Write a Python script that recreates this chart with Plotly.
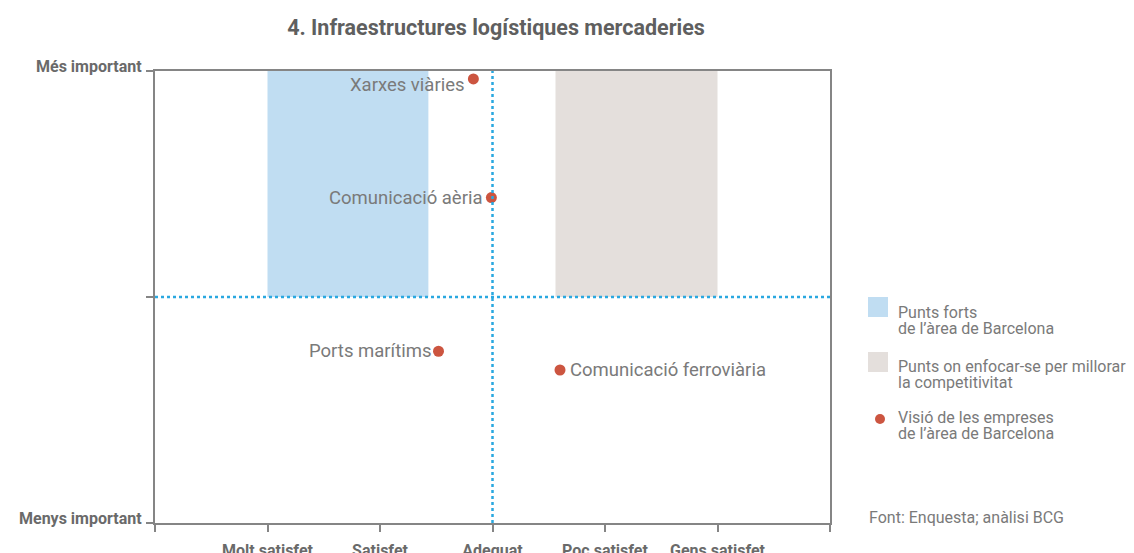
import plotly.graph_objects as go

# ---- data ----
title = "4. Infraestructures logístiques mercaderies"
x_tick_vals = [0, 1, 2, 3, 4, 5, 6]
x_tick_text = ["", "Molt satisfet", "Satisfet", "Adequat", "Poc satisfet", "Gens satisfet", ""]
y_tick_vals = [0, 1, 2]
y_tick_text = ["Menys important", "", "Més important"]

point_names = ["Xarxes viàries", "Comunicació aèria", "Ports marítims", "Comunicació ferroviària"]
point_x = [2.83, 2.99, 2.52, 3.60]
point_y = [1.965, 1.44, 0.76, 0.677]
label_side = ["left", "left", "left", "right"]

strong_zone_x = [1.0, 2.43]
focus_zone_x = [3.56, 5.0]
zone_y = [1.0, 2.0]
mid_x = 3.0
mid_y = 1.0

legend_items = [["Punts forts", "de l’àrea de Barcelona"],
                ["Punts on enfocar-se per millorar", "la competitivitat"],
                ["Visió de les empreses", "de l’àrea de Barcelona"]]
source_text = "Font: Enquesta; anàlisi BCG"

# ---- layout geometry (page pixels; body has 8px default margin) ----
OFF = 8
W, H = 1134 - OFF, 553 - OFF
PL, PR, PT, PB = 155, 830, 71, 523  # plot area in page pixels


def px(x):
    return (x - PL) / (PR - PL)


def py(y):
    return (PB - y) / (PB - PT)


# ---- style ----
FONT = "Roboto"
GREY_TXT = "#7a7a7a"
AXIS = "#858585"
BLUE = "#c0ddf2"
BEIGE = "#e4dfdc"
RED = "#cc5540"
DOT = "#2aa8e0"
TICK_TXT = "#6a6a6a"

fig = go.Figure()

# zones
fig.add_shape(type="rect", xref="x", yref="y", x0=strong_zone_x[0], x1=strong_zone_x[1],
              y0=zone_y[0], y1=zone_y[1], fillcolor=BLUE, line_width=0, layer="below")
fig.add_shape(type="rect", xref="x", yref="y", x0=focus_zone_x[0], x1=focus_zone_x[1],
              y0=zone_y[0], y1=zone_y[1], fillcolor=BEIGE, line_width=0, layer="below")
# dotted mid lines
fig.add_shape(type="line", xref="x", yref="y", x0=mid_x, x1=mid_x, y0=0, y1=2,
              line=dict(color=DOT, width=2.5, dash="3px,3px"))
fig.add_shape(type="line", xref="x", yref="y", x0=0, x1=6, y0=mid_y, y1=mid_y,
              line=dict(color=DOT, width=2.5, dash="3px,3px"))

fig.add_trace(go.Scatter(x=point_x, y=point_y, mode="markers",
                         marker=dict(color=RED, size=11), hoverinfo="text",
                         text=point_names, showlegend=False))

for n, x, y, s in zip(point_names, point_x, point_y, label_side):
    fig.add_annotation(x=x, y=y, xref="x", yref="y", text=n, showarrow=False,
                       xanchor="right" if s == "left" else "left",
                       xshift=-6 if s == "left" else 8,
                       yshift=-6 if n == "Xarxes viàries" else 0,
                       font=dict(family=FONT, size=18.5, color=GREY_TXT))

# y-axis labels (baseline sits on the tick)
for v, t in zip(y_tick_vals, y_tick_text):
    if t:
        fig.add_annotation(x=0, y=v, xref="x", yref="y", text="<b>" + t + "</b>",
                           showarrow=False, xanchor="right", yanchor="bottom",
                           xshift=-11, yshift=-7,
                           font=dict(family=FONT, size=16, color=TICK_TXT))

# legend (manual)
fig.add_shape(type="rect", xref="paper", yref="paper", x0=px(868), x1=px(888),
              y0=py(317), y1=py(297), fillcolor=BLUE, line_width=0)
fig.add_shape(type="rect", xref="paper", yref="paper", x0=px(868), x1=px(888),
              y0=py(372), y1=py(352), fillcolor=BEIGE, line_width=0)
fig.add_shape(type="circle", xref="paper", yref="paper", x0=px(875), x1=px(885),
              y0=py(424), y1=py(414), fillcolor=RED, line_width=0)
for lines, ymid in zip(legend_items, [320, 374, 425]):
    for i, t in enumerate(lines):
        fig.add_annotation(x=px(896), y=py(ymid - 8 + 16 * i), xref="paper", yref="paper",
                           text=t, showarrow=False, xanchor="left", yanchor="middle",
                           align="left", font=dict(family=FONT, size=16, color=GREY_TXT))
fig.add_annotation(x=px(867), y=py(517), xref="paper", yref="paper", text=source_text,
                   showarrow=False, xanchor="left", yanchor="middle", align="left",
                   font=dict(family=FONT, size=16, color=GREY_TXT))

fig.update_layout(
    template="none",
    width=W, height=H,
    margin=dict(l=PL - OFF, r=W - (PR - OFF), t=PT - OFF, b=H - (PB - OFF)),
    paper_bgcolor="white", plot_bgcolor="white",
    showlegend=False,
    title=dict(text="<b>" + title + "</b>", xref="paper", x=px(496), xanchor="center",
               yref="container", y=1 - (27 - OFF) / H, yanchor="middle",
               font=dict(family=FONT, size=21.5, color="#5f5f5f")),
    xaxis=dict(range=[0, 6], tickvals=x_tick_vals, ticktext=x_tick_text,
               showgrid=False, zeroline=False, showline=True, mirror=True,
               linecolor=AXIS, linewidth=1.5, ticks="outside", ticklen=7,
               tickcolor=AXIS, tickwidth=1.5, automargin=False,
               tickfont=dict(family=FONT, size=16, color=TICK_TXT, weight="bold"),
               ticklabelstandoff=5, fixedrange=True),
    yaxis=dict(range=[0, 2], tickvals=y_tick_vals,
               showgrid=False, zeroline=False, showline=True, mirror=True,
               linecolor=AXIS, linewidth=1.5, ticks="outside", ticklen=7,
               tickcolor=AXIS, tickwidth=1.5, automargin=False,
               showticklabels=False, fixedrange=True),
)

fig.write_html("out.html")
